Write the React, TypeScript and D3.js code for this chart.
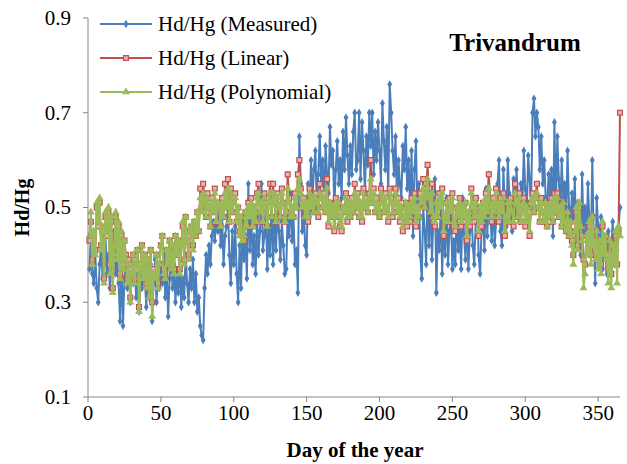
import React from "react";
import * as d3 from "d3";

// Hd/Hg daily values, day 1..365
const measured = [
  .37,.44,.36,.34,.40,.33,.30,.38,.42,.35,
  .38,.44,.36,.40,.33,.42,.37,.45,.36,.39,
  .34,.26,.38,.25,.35,.40,.33,.37,.30,.36,
  .34,.38,.31,.36,.28,.37,.33,.40,.35,.29,
  .36,.31,.38,.26,.34,.39,.30,.36,.33,.38,
  .34,.40,.31,.37,.27,.35,.41,.33,.38,.30,
  .36,.32,.39,.29,.35,.31,.40,.34,.30,.37,
  .33,.39,.30,.36,.28,.31,.25,.23,.22,.33,
  .40,.36,.42,.38,.44,.47,.43,.49,.45,.50,
  .42,.48,.38,.44,.46,.50,.40,.34,.45,.38,
  .46,.36,.30,.42,.33,.47,.39,.44,.35,.55,
  .41,.49,.38,.44,.36,.48,.40,.45,.55,.41,
  .44,.50,.37,.46,.40,.52,.38,.48,.41,.51,
  .45,.39,.47,.42,.36,.37,.49,.44,.53,.43,
  .48,.38,.41,.32,.65,.55,.45,.50,.42,.40,
  .55,.48,.60,.52,.58,.62,.50,.57,.65,.55,
  .60,.51,.63,.57,.53,.67,.59,.62,.50,.58,
  .64,.55,.60,.52,.66,.58,.69,.61,.55,.63,
  .57,.66,.70,.58,.60,.70,.56,.68,.62,.53,
  .65,.59,.70,.63,.70,.57,.66,.60,.68,.62,
  .55,.72,.64,.58,.67,.53,.76,.70,.62,.57,
  .65,.51,.60,.55,.52,.63,.58,.67,.54,.60,
  .50,.62,.44,.58,.64,.48,.55,.40,.35,.50,
  .45,.38,.56,.42,.53,.39,.48,.56,.32,.45,
  .41,.50,.36,.47,.40,.52,.38,.45,.49,.37,
  .43,.38,.50,.41,.46,.37,.52,.44,.39,.48,
  .37,.45,.50,.42,.38,.47,.52,.40,.36,.45,
  .49,.41,.54,.44,.57,.48,.43,.52,.42,.47,
  .55,.60,.45,.42,.58,.50,.46,.60,.53,.48,
  .45,.56,.49,.58,.52,.47,.55,.50,.62,.54,
  .48,.61,.56,.50,.70,.73,.65,.70,.67,.58,
  .65,.55,.60,.52,.50,.57,.53,.58,.44,.68,
  .50,.65,.56,.48,.60,.52,.55,.47,.62,.50,
  .45,.53,.48,.56,.42,.51,.46,.40,.57,.45,
  .50,.44,.55,.47,.41,.60,.43,.34,.52,.46,
  .42,.48,.37,.44,.40,.36,.45,.39,.42,.47,
  .38,.44,.41,.46,.50,
];

const linear = [
  .43,.47,.39,.44,.41,.50,.46,.51,.42,.45,
  .35,.48,.44,.49,.38,.47,.33,.42,.48,.40,
  .46,.36,.44,.38,.43,.40,.35,.39,.31,.37,
  .40,.35,.39,.41,.29,.38,.42,.36,.40,.34,
  .39,.33,.41,.30,.37,.36,.40,.34,.38,.42,
  .44,.37,.36,.41,.39,.43,.38,.42,.37,.44,
  .40,.43,.37,.42,.46,.39,.48,.43,.40,.45,
  .46,.42,.47,.44,.49,.45,.54,.50,.55,.52,
  .48,.53,.50,.46,.52,.49,.54,.47,.51,.50,
  .46,.52,.48,.55,.50,.56,.47,.54,.49,.52,
  .53,.47,.50,.45,.48,.44,.43,.49,.46,.51,
  .48,.52,.46,.50,.47,.53,.55,.49,.51,.47,
  .53,.50,.46,.52,.55,.48,.55,.51,.47,.53,
  .50,.48,.54,.51,.47,.49,.57,.52,.48,.50,
  .48,.53,.50,.57,.60,.54,.50,.52,.48,.51,
  .47,.54,.50,.52,.49,.53,.51,.48,.55,.52,
  .50,.53,.49,.56,.46,.51,.48,.50,.45,.52,
  .48,.51,.46,.45,.50,.49,.53,.47,.51,.48,
  .52,.49,.55,.50,.53,.48,.51,.47,.54,.50,
  .52,.49,.53,.60,.51,.54,.49,.52,.50,.48,
  .54,.51,.49,.53,.50,.47,.54,.52,.48,.51,
  .54,.49,.52,.47,.50,.45,.48,.51,.46,.50,
  .47,.52,.49,.53,.46,.50,.48,.53,.51,.56,
  .50,.54,.59,.52,.49,.55,.47,.46,.51,.48,
  .53,.50,.54,.44,.48,.51,.47,.52,.49,.53,
  .46,.45,.50,.48,.52,.46,.50,.47,.51,.43,
  .49,.46,.54,.50,.47,.52,.48,.44,.50,.46,
  .51,.48,.53,.49,.57,.50,.47,.52,.49,.54,
  .50,.47,.52,.49,.53,.44,.48,.51,.47,.52,
  .49,.46,.55,.51,.48,.53,.47,.50,.52,.46,
  .50,.48,.44,.51,.53,.49,.52,.55,.50,.47,
  .52,.49,.47,.51,.46,.50,.48,.52,.47,.53,
  .49,.53,.48,.50,.46,.51,.47,.45,.49,.44,
  .47,.43,.40,.45,.49,.42,.50,.46,.44,.39,
  .38,.44,.41,.46,.40,.48,.43,.41,.45,.39,
  .43,.38,.46,.41,.44,.40,.37,.43,.36,.42,
  .39,.44,.38,.45,.70,
];

const polynomial = [
  .44,.49,.38,.45,.40,.51,.47,.52,.41,.46,
  .34,.49,.45,.50,.36,.48,.32,.42,.49,.39,
  .47,.35,.45,.37,.43,.39,.34,.38,.30,.36,
  .40,.34,.38,.41,.28,.37,.42,.35,.40,.33,
  .39,.31,.41,.27,.36,.35,.40,.33,.38,.42,
  .44,.36,.35,.41,.38,.43,.37,.42,.36,.44,
  .40,.43,.36,.42,.47,.38,.48,.43,.39,.45,
  .46,.41,.47,.44,.49,.45,.52,.49,.53,.51,
  .48,.52,.50,.46,.51,.49,.53,.47,.51,.50,
  .46,.51,.48,.53,.50,.54,.47,.53,.49,.51,
  .52,.47,.50,.44,.48,.43,.44,.49,.46,.50,
  .48,.51,.46,.50,.47,.52,.53,.49,.51,.47,
  .52,.50,.46,.51,.53,.48,.53,.51,.47,.52,
  .50,.48,.53,.51,.47,.49,.54,.51,.48,.50,
  .48,.52,.50,.54,.56,.53,.50,.51,.48,.51,
  .48,.53,.50,.52,.49,.52,.51,.49,.53,.52,
  .50,.52,.49,.54,.47,.51,.48,.50,.46,.51,
  .48,.51,.47,.46,.50,.49,.52,.48,.51,.48,
  .51,.49,.53,.50,.52,.48,.51,.48,.53,.50,
  .51,.49,.52,.56,.51,.53,.49,.51,.50,.48,
  .53,.51,.49,.52,.50,.48,.53,.51,.49,.51,
  .53,.49,.51,.48,.50,.46,.48,.51,.47,.50,
  .48,.51,.49,.52,.47,.50,.48,.52,.51,.54,
  .50,.53,.56,.52,.49,.53,.48,.47,.51,.48,
  .52,.50,.53,.45,.48,.51,.47,.51,.49,.52,
  .47,.46,.50,.48,.51,.47,.50,.48,.51,.44,
  .49,.47,.53,.50,.48,.51,.48,.45,.50,.47,
  .51,.48,.52,.49,.54,.50,.48,.51,.49,.53,
  .50,.48,.51,.49,.52,.45,.48,.51,.47,.51,
  .49,.47,.53,.51,.48,.52,.47,.50,.51,.47,
  .50,.48,.45,.51,.52,.49,.52,.53,.50,.47,
  .51,.49,.47,.51,.46,.50,.48,.51,.47,.52,
  .49,.52,.48,.50,.46,.51,.47,.45,.49,.44,
  .47,.42,.38,.45,.50,.41,.51,.46,.43,.33,
  .36,.44,.40,.47,.38,.48,.42,.39,.45,.37,
  .43,.36,.47,.40,.44,.39,.34,.43,.33,.42,
  .38,.45,.34,.46,.44,
];

const xTicks = [0, 50, 100, 150, 200, 250, 300, 350];
const yTicks = [0.1, 0.3, 0.5, 0.7, 0.9];
const seriesNames = ["Hd/Hg (Measured)", "Hd/Hg (Linear)", "Hd/Hg (Polynomial)"];

const FONT = '"Liberation Serif", "Times New Roman", Times, serif';
const AXIS = "#868686";
const COLORS = ["#4A7EBB", "#C0504D", "#9BBB59"];

export default function App() {
  const x = d3.scaleLinear().domain([0, 365]).range([88, 620]);
  const y = d3.scaleLinear().domain([0.1, 0.9]).range([397, 18]);

  const series = [measured, linear, polynomial].map((vals) =>
    vals.map((v, i) => [i + 1, v] as [number, number])
  );

  const line = d3
    .line<[number, number]>()
    .x((d) => x(d[0]))
    .y((d) => y(d[1]));

  const diamond = d3.symbol().type(d3.symbolDiamond).size(20)() as string;
  const square = d3.symbol().type(d3.symbolSquare).size(24)() as string;
  const triangle = d3.symbol().type(d3.symbolTriangle).size(28)() as string;

  const marker = (k: number) =>
    k === 0 ? (
      <path d={diamond} fill={COLORS[0]} />
    ) : k === 1 ? (
      <path d={square} fill="#e9b2b0" stroke={COLORS[1]} strokeWidth={1.2} />
    ) : (
      <path d={triangle} fill={COLORS[2]} />
    );

  return (
    <svg
      width={627}
      height={464}
      style={{ position: "absolute", left: 0, top: 0, background: "#fff", fontFamily: FONT }}
    >
      {/* series */}
      {series.map((pts, k) => (
        <g key={k}>
          <path d={line(pts) as string} fill="none" stroke={COLORS[k]} strokeWidth={2} />
          {pts.map((p, i) => (
            <g key={i} transform={`translate(${x(p[0])},${y(p[1])})`}>
              {marker(k)}
            </g>
          ))}
        </g>
      ))}

      {/* axes */}
      <line x1={88} x2={88} y1={y(0.9)} y2={y(0.1)} stroke={AXIS} />
      <line x1={88} x2={620} y1={y(0.1)} y2={y(0.1)} stroke={AXIS} />
      {yTicks.map((t) => (
        <g key={t}>
          <line x1={83} x2={88} y1={y(t)} y2={y(t)} stroke={AXIS} />
          <text x={71} y={y(t)} dy="0.33em" textAnchor="end" fontSize={21}>
            {t.toFixed(1)}
          </text>
        </g>
      ))}
      {xTicks.map((t) => (
        <g key={t}>
          <line x1={x(t)} x2={x(t)} y1={y(0.1)} y2={y(0.1) + 5} stroke={AXIS} />
          <text x={x(t)} y={420} textAnchor="middle" fontSize={21}>
            {t}
          </text>
        </g>
      ))}

      <text
        transform={`translate(29,${(y(0.9) + y(0.1)) / 2}) rotate(-90)`}
        textAnchor="middle"
        fontSize={20}
        fontWeight="bold"
      >
        Hd/Hg
      </text>
      <text x={355} y={457} textAnchor="middle" fontSize={21} fontWeight="bold">
        Day of the year
      </text>
      <text x={515} y={51} textAnchor="middle" fontSize={25} fontWeight="bold">
        Trivandrum
      </text>

      {/* legend */}
      {seriesNames.map((name, k) => {
        const ly = 24 + k * 34;
        return (
          <g key={name}>
            <line x1={100} x2={152} y1={ly} y2={ly} stroke={COLORS[k]} strokeWidth={2} />
            <g transform={`translate(126,${ly})`}>{marker(k)}</g>
            <text x={158} y={ly} dy="0.33em" fontSize={21}>
              {name}
            </text>
          </g>
        );
      })}
    </svg>
  );
}
